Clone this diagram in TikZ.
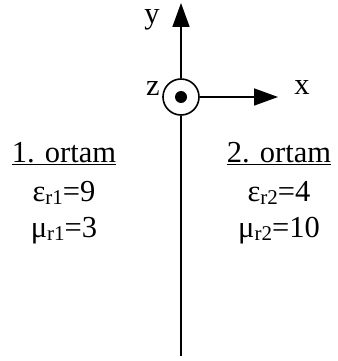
\documentclass[tikz,border=0pt]{standalone}
\usepackage{fontspec}
\setmainfont{Liberation Serif}
\usetikzlibrary{arrows.meta}
\newcommand{\lowsub}[1]{\raisebox{-0.13em}{\fontsize{21}{21}\selectfont #1}}
\begin{document}
\begin{tikzpicture}[x=1pt,y=-1pt,
  ax/.style={line width=1.6pt},
  tipped/.style={-{Triangle[length=24pt,width=17pt]}},
  lbl/.style={font=\fontsize{30.5}{36}\selectfont, inner sep=0pt}]
\useasboundingbox (0,0) rectangle (337,361);
\node[circle, draw, line width=1.6pt, minimum size=36pt, inner sep=0pt] (o) at (181,97) {};
\node[circle, fill, minimum size=12pt, inner sep=0pt] (dot) at (o.center) {};
\coordinate (ytip) at (181,3);
\coordinate (xtip) at (278,97);
\coordinate (bot) at (181,356);
\draw[ax,tipped] (o.north) -- (ytip);
\draw[ax,tipped] (o.east) -- (xtip);
\draw[ax] (o.south) -- (bot);
\node[lbl, anchor=base] (ly) at (152,24) {y};
\node[lbl, anchor=base] (lz) at (153,95) {z};
\node[lbl, anchor=base] (lx) at (302,94) {x};
\node[lbl, anchor=base] (t1) at (64,162) {\underline{1. ortam}};
\node[lbl, anchor=base] (e1) at (64,201) {ε\lowsub{r1}=9};
\node[lbl, anchor=base] (m1) at (64,237) {μ\lowsub{r1}=3};
\node[lbl, anchor=base] (t2) at (279,162) {\underline{2. ortam}};
\node[lbl, anchor=base] (e2) at (279,201) {ε\lowsub{r2}=4};
\node[lbl, anchor=base] (m2) at (279,237) {μ\lowsub{r2}=10};
\end{tikzpicture}
\end{document}
